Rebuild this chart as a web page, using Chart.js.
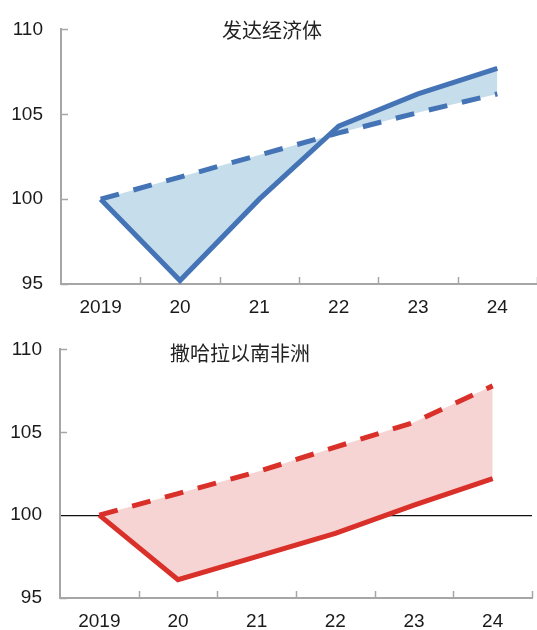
<!DOCTYPE html>
<html>
<head>
<meta charset="utf-8">
<script src="https://cdn.jsdelivr.net/npm/chart.js@4.4.0/dist/chart.umd.min.js"></script>
<style>
  body { margin: 0; background: #fff; }
  canvas { position: absolute; left: 0; }
</style>
</head>
<body>
<canvas id="advChart" width="537" height="318" style="top:0"></canvas>
<canvas id="ssaChart" width="537" height="310" style="top:320px"></canvas>
<script>
// index, 2019 = 100
const years = ["2019", "20", "21", "22", "23", "24"];
const yTicks = [95, 100, 105, 110];

const advTitle = "发达经济体";
const advActual = [100, 95.2, 100.0, 104.3, 106.2, 107.7];
const advPreCovid = [100, 101.3, 102.6, 103.9, 105.1, 106.2];

const ssaTitle = "撒哈拉以南非洲";
const ssaActual = [100, 96.1, 97.5, 98.9, 100.6, 102.2];
const ssaPreCovid = [100, 101.3, 102.6, 104.1, 105.6, 107.8];

const AXIS_GREY = "#a6a6a6";
const NUM_FONT = "'Liberation Sans Narrow', 'Arial Narrow', 'Liberation Sans', sans-serif";

// inward tick marks + the panel caption inside the plot area
const panelDecor = {
  id: "panelDecor",
  afterDraw(chart, args, opts) {
    const { ctx, chartArea, scales: { x, y } } = chart;
    ctx.save();
    ctx.strokeStyle = AXIS_GREY;
    ctx.lineWidth = 1.5;
    ctx.beginPath();
    const n = x.ticks.length;
    const step = (chartArea.right - chartArea.left) / n;
    for (let i = 1; i <= n; i++) {
      const px = Math.round(chartArea.left + i * step) + 0.5;
      ctx.moveTo(px, chartArea.bottom);
      ctx.lineTo(px, chartArea.bottom - 7);
    }
    y.ticks.forEach((t) => {
      if (opts.skipTick === t.value) return;
      const py = Math.round(y.getPixelForValue(t.value)) + 0.5;
      ctx.moveTo(chartArea.left, py);
      ctx.lineTo(chartArea.left + 7, py);
    });
    ctx.stroke();

    ctx.font = "20px 'Noto Sans CJK SC'";
    ctx.fillStyle = "#222";
    ctx.textAlign = "center";
    ctx.textBaseline = "middle";
    ctx.fillText(opts.text, opts.x, opts.y);
    ctx.restore();
  },
};

function makePanel(id, actual, preCovid, style) {
  return new Chart(document.getElementById(id), {
    type: "line",
    data: {
      labels: years,
      datasets: [
        {
          label: "actual",
          data: actual,
          borderColor: style.line,
          backgroundColor: style.fill,
          borderWidth: 5,
          pointRadius: 0,
          tension: 0,
          fill: 1,
        },
        {
          label: "pre-covid",
          data: preCovid,
          borderColor: style.line,
          borderWidth: 5,
          borderDash: [19, 15],
          pointRadius: 0,
          tension: 0,
          fill: false,
        },
      ],
    },
    options: {
      responsive: false,
      animation: false,
      layout: { padding: { top: style.padTop, right: style.padRight, left: 0, bottom: 0 } },
      plugins: {
        legend: { display: false },
        tooltip: { enabled: false },
        // paint the band before any line so it doesn't cover the dashed one
        filler: { drawTime: "beforeDatasetsDraw" },
        panelDecor: { text: style.title, x: style.titleX, y: style.titleY, skipTick: style.zeroLine ? 100 : null },
      },
      scales: {
        x: {
          offset: true,
          grid: { display: false, drawTicks: false },
          border: { display: true, color: AXIS_GREY, width: 2 },
          ticks: {
            color: "#1a1a1a",
            padding: 12,
            maxRotation: 0,
            font: { family: NUM_FONT, size: 19 },
          },
          afterFit: (scale) => { scale.height = style.xHeight; },
        },
        y: {
          min: 95,
          max: 110,
          afterBuildTicks: (scale) => { scale.ticks = yTicks.map((v) => ({ value: v })); },
          grid: {
            drawTicks: false,
            lineWidth: 1.2,
            color: (c) => (style.zeroLine && c.tick && c.tick.value === 100 ? "#111" : "rgba(0,0,0,0)"),
          },
          border: { display: true, color: AXIS_GREY, width: 2 },
          ticks: {
            color: "#1a1a1a",
            padding: 18,
            font: { family: NUM_FONT, size: 19 },
          },
          afterFit: (scale) => { scale.width = style.yWidth; },
        },
      },
    },
    plugins: [panelDecor],
  });
}

makePanel("advChart", advActual, advPreCovid, {
  line: "#4574b6",
  fill: "#c6ddeb",
  title: advTitle,
  titleX: 272,
  titleY: 30,
  padTop: 22,
  padRight: 0,
  xHeight: 34,
  yWidth: 61,
  zeroLine: false,
});

makePanel("ssaChart", ssaActual, ssaPreCovid, {
  line: "#d9302a",
  fill: "#f6d4d4",
  title: ssaTitle,
  titleX: 240,
  titleY: 33,
  padTop: 23,
  padRight: 5,
  xHeight: 32,
  yWidth: 60,
  zeroLine: true,
});
</script>
</body>
</html>
